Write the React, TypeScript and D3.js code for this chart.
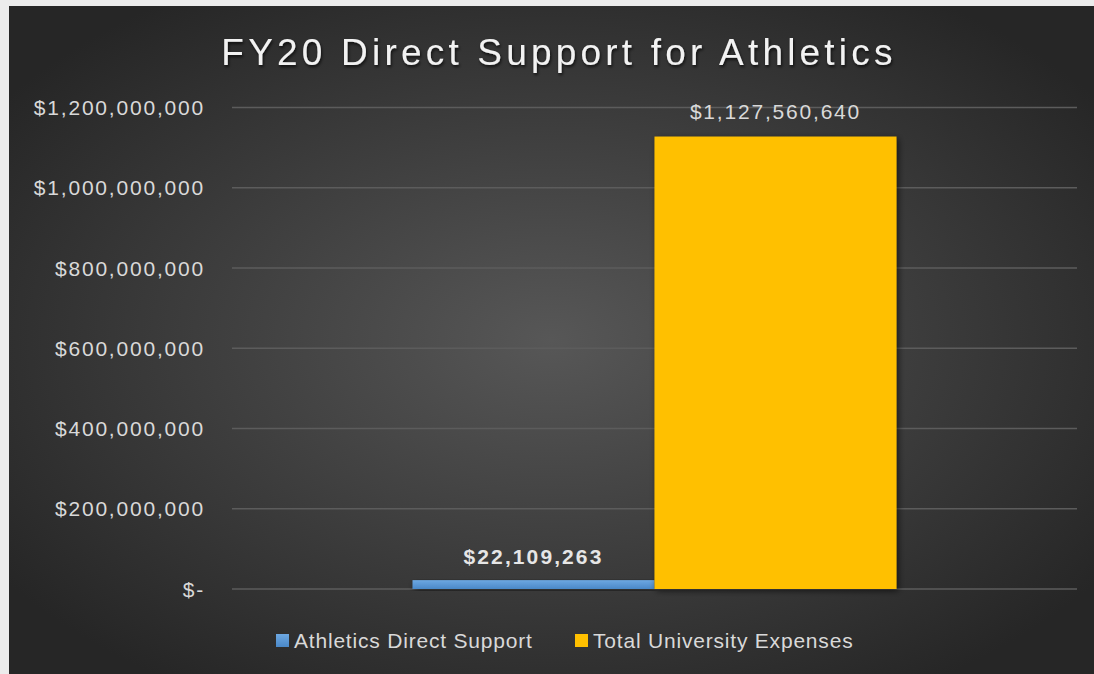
import React, { useRef, useEffect } from 'react';
import * as d3 from 'd3';

const categories = ['FY20'];
const seriesNames = ['Athletics Direct Support', 'Total University Expenses'];
const seriesValues = [22109263, 1127560640];
const seriesColors = ['#5b9bd5', '#ffc000'];
const yTicks = [0, 200000000, 400000000, 600000000, 800000000, 1000000000, 1200000000];

const WIDTH = 1094;
const HEIGHT = 674;
const FONT = 'Liberation Sans, Arial, sans-serif';

const fmtMoney = (v: number) => (v === 0 ? '$-' : '$' + d3.format(',')(v));

const App: React.FC = () => {
  const svgRef = useRef<SVGSVGElement>(null);

  useEffect(() => {
    if (!svgRef.current) return;
    const svg = d3.select(svgRef.current);
    svg.selectAll('*').remove();

    const margin = { top: 107.5, right: 17, bottom: 85, left: 232 };
    const innerWidth = WIDTH - margin.left - margin.right;
    const innerHeight = HEIGHT - margin.top - margin.bottom;

    const defs = svg.append('defs');

    // background gradient
    const bg = defs
      .append('radialGradient')
      .attr('id', 'bg')
      .attr('cx', '50%')
      .attr('cy', '50%')
      .attr('r', '62%');
    bg.append('stop').attr('offset', '0%').attr('stop-color', '#575757');
    bg.append('stop').attr('offset', '100%').attr('stop-color', '#262626');

    const blueGrad = defs
      .append('linearGradient')
      .attr('id', 'blueGrad')
      .attr('x1', 0)
      .attr('y1', 0)
      .attr('x2', 0)
      .attr('y2', 1);
    blueGrad.append('stop').attr('offset', '0%').attr('stop-color', '#6da8e2');
    blueGrad.append('stop').attr('offset', '100%').attr('stop-color', '#4a88c8');

    const shadow = defs
      .append('filter')
      .attr('id', 'shadow')
      .attr('x', '-10%')
      .attr('y', '-10%')
      .attr('width', '130%')
      .attr('height', '130%');
    shadow
      .append('feDropShadow')
      .attr('dx', 2)
      .attr('dy', 2)
      .attr('stdDeviation', 3)
      .attr('flood-color', '#000')
      .attr('flood-opacity', 0.6);

    const textShadow = defs.append('filter').attr('id', 'textShadow');
    textShadow
      .append('feDropShadow')
      .attr('dx', 1)
      .attr('dy', 2)
      .attr('stdDeviation', 1.5)
      .attr('flood-color', '#000')
      .attr('flood-opacity', 0.7);

    // page border + chart area
    svg.append('rect').attr('width', WIDTH).attr('height', HEIGHT).attr('fill', '#ececec');
    svg
      .append('rect')
      .attr('x', 9)
      .attr('y', 6)
      .attr('width', WIDTH - 9)
      .attr('height', HEIGHT - 6)
      .attr('fill', 'url(#bg)');

    // title
    svg
      .append('text')
      .attr('x', 559)
      .attr('y', 65)
      .attr('text-anchor', 'middle')
      .attr('font-family', FONT)
      .attr('font-size', 37)
      .attr('letter-spacing', 4.2)
      .attr('fill', '#f2f2f2')
      .attr('filter', 'url(#textShadow)')
      .text('FY20 Direct Support for Athletics');

    const g = svg.append('g').attr('transform', `translate(${margin.left},${margin.top})`);

    const yScale = d3.scaleLinear().domain([0, 1200000000]).range([innerHeight, 0]);
    const x0 = d3.scaleBand().domain(categories).range([0, innerWidth]).paddingInner(0).paddingOuter(0.373);
    const x1 = d3.scaleBand().domain(seriesNames).range([0, x0.bandwidth()]).padding(0);

    // grid lines
    g.append('g')
      .selectAll('line')
      .data(yTicks)
      .enter()
      .append('line')
      .attr('x1', 0)
      .attr('x2', innerWidth)
      .attr('y1', (d) => yScale(d))
      .attr('y2', (d) => yScale(d))
      .attr('stroke', '#5c5c5c')
      .attr('stroke-width', 1.5);

    // y axis labels
    g.append('g')
      .selectAll('text')
      .data(yTicks)
      .enter()
      .append('text')
      .attr('x', -27)
      .attr('y', (d) => yScale(d))
      .attr('dy', '0.36em')
      .attr('text-anchor', 'end')
      .attr('font-family', FONT)
      .attr('font-size', 21)
      .attr('letter-spacing', 1.8)
      .attr('fill', '#d9d9d9')
      .text((d) => fmtMoney(d));

    // bars
    const groups = g
      .selectAll('.cat')
      .data(categories)
      .enter()
      .append('g')
      .attr('transform', (c) => `translate(${x0(c)},0)`);

    const barData = seriesNames.map((name, i) => ({ name, value: seriesValues[i], color: seriesColors[i] }));

    groups
      .selectAll('rect')
      .data(barData)
      .enter()
      .append('rect')
      .attr('x', (d) => x1(d.name) || 0)
      .attr('y', (d) => yScale(d.value))
      .attr('width', x1.bandwidth())
      .attr('height', (d) => innerHeight - yScale(d.value))
      .attr('fill', (d, i) => (i === 0 ? 'url(#blueGrad)' : d.color))
      .attr('filter', 'url(#shadow)');

    // data labels
    groups
      .selectAll('.lbl')
      .data(barData)
      .enter()
      .append('text')
      .attr('x', (d) => (x1(d.name) || 0) + x1.bandwidth() / 2)
      .attr('y', (d, i) => yScale(d.value) - (i === 0 ? 16 : 18))
      .attr('text-anchor', 'middle')
      .attr('font-family', FONT)
      .attr('font-size', 21)
      .attr('letter-spacing', (d, i) => (i === 0 ? 2.1 : 1.8))
      .attr('font-weight', (d, i) => (i === 0 ? 'bold' : 'normal'))
      .attr('fill', (d, i) => (i === 0 ? '#e6e6e6' : '#d9d9d9'))
      .text((d) => fmtMoney(d.value));

    // legend
    const legendX = [276, 575];
    const legend = svg
      .append('g')
      .selectAll('g')
      .data(barData)
      .enter()
      .append('g')
      .attr('transform', (d, i) => `translate(${legendX[i]},634)`);

    legend
      .append('rect')
      .attr('width', 13)
      .attr('height', 13)
      .attr('fill', (d, i) => (i === 0 ? 'url(#blueGrad)' : d.color));

    legend
      .append('text')
      .attr('x', 18)
      .attr('y', 14)
      .attr('font-family', FONT)
      .attr('font-size', 21)
      .attr('letter-spacing', 0.8)
      .attr('fill', '#d9d9d9')
      .text((d) => d.name);
  }, []);

  return (
    <div style={{ position: 'absolute', left: 0, top: 0 }}>
      <svg ref={svgRef} width={WIDTH} height={HEIGHT} style={{ display: 'block' }} />
    </div>
  );
};

export default App;
